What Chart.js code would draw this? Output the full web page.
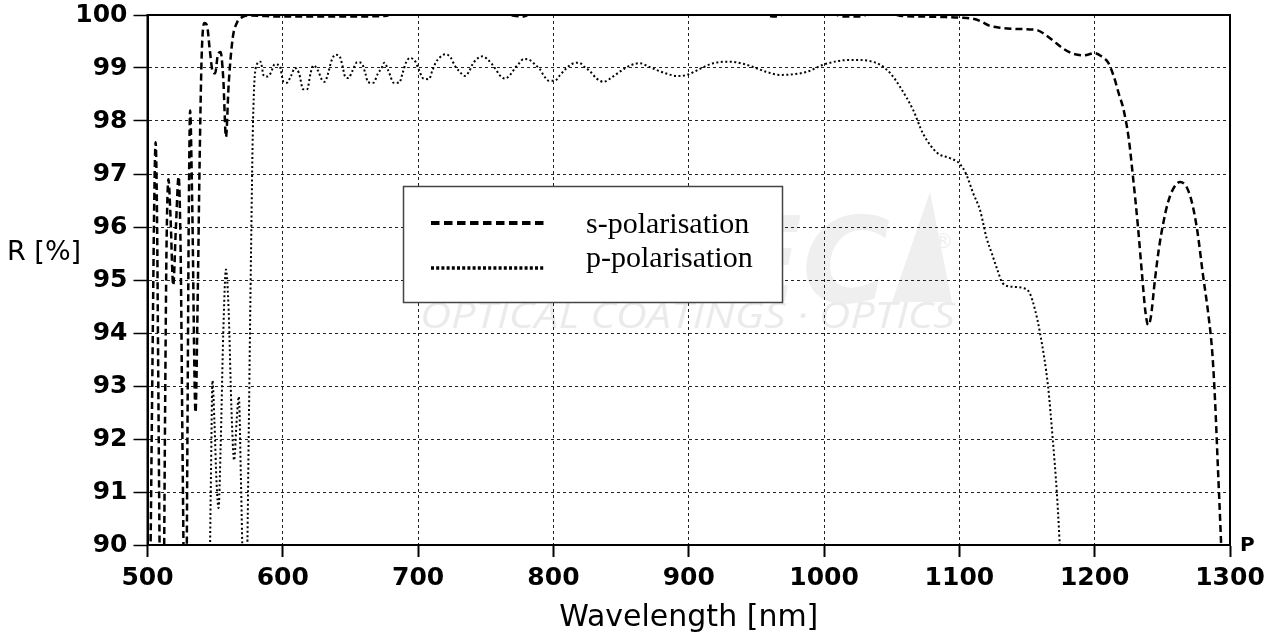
<!DOCTYPE html>
<html>
<head>
<meta charset="utf-8">
<script src="https://cdn.jsdelivr.net/npm/chart.js@4.4.0/dist/chart.umd.min.js"></script>
<style>
  html, body { margin: 0; padding: 0; background: #fff; }
  #wrap { width: 1274px; height: 636px; }
</style>
</head>
<body>
<div id="wrap"><canvas id="reflChart" width="1274" height="636"></canvas></div>
<script>
  // axis ranges / tick steps
  const xTicks = [500, 600, 700, 800, 900, 1000, 1100, 1200, 1300];
  const yTicks = [90, 91, 92, 93, 94, 95, 96, 97, 98, 99, 100];

  // s-polarisation (dashed)
  const sWavelength = [500, 502, 503.5, 505, 506, 507, 508, 509, 510.5, 512, 513, 514, 515.5, 517, 519, 521, 523, 524.5, 526, 527.5,
    528.5, 529.5, 530.5, 531.5, 533, 535.5, 537, 538.5, 540, 542, 544, 546, 548, 550, 552, 554, 556, 558, 560, 563,
    566, 570, 575, 600, 640, 675, 690, 750, 770, 778, 786, 800, 940, 955, 963, 972, 990, 1005, 1014, 1027,
    1036, 1048, 1058, 1075, 1090, 1100, 1110, 1116, 1122, 1130, 1140, 1150, 1158, 1164, 1170, 1177, 1184, 1192, 1200, 1205,
    1210, 1214, 1218, 1221, 1225, 1228.5, 1232, 1235, 1237.5, 1239.5, 1241.5, 1244.5, 1247.5, 1250.5, 1254, 1258, 1263, 1268, 1272, 1276,
    1280, 1284, 1287, 1289, 1291, 1293, 1295];
  const sReflect = [88, 89.5, 93, 96.5, 97.6, 96.3, 93, 89.8, 87.5, 89, 92.5, 95.5, 96.9, 96.2, 94.9, 96, 96.95, 95.5, 91.5, 88.5,
    88.5, 92, 96.2, 98.2, 96.5, 92.5, 94.5, 97.2, 99.2, 99.85, 99.8, 99.35, 98.95, 98.9, 99.25, 99.3, 98.8, 97.7, 98.7, 99.57,
    99.85, 99.96, 99.99, 99.97, 99.97, 99.98, 100.15, 100.15, 99.99, 99.97, 100.1, 100.2, 100.2, 100.03, 99.97, 100.03, 100.2, 100.05, 99.97, 99.97,
    100.05, 100.04, 99.98, 99.97, 99.96, 99.95, 99.93, 99.88, 99.8, 99.76, 99.74, 99.73, 99.71, 99.62, 99.5, 99.36, 99.27, 99.24, 99.28, 99.22,
    99.1, 98.85, 98.5, 98.25, 97.7, 96.9, 96.0, 95.1, 94.4, 94.15, 94.3, 95.0, 95.6, 96.05, 96.45, 96.72, 96.85, 96.75, 96.45, 95.9,
    95.1, 94.35, 93.6, 92.7, 91.5, 90.3, 89];

  // p-polarisation (dotted)
  const pWavelength = [500, 544, 545.5, 547, 548, 549.5, 551, 552.5, 554, 556, 558, 560, 562, 564, 566, 567.5, 569, 570.5, 572, 573.5,
    575, 576.5, 578, 580, 583.5, 586, 588.5, 591, 594, 597.5, 600.5, 603, 606, 609, 612, 615, 618, 620.5, 622.6, 626,
    629, 631, 633.5, 636, 639, 642, 644, 646, 648.5, 651.5, 655, 658.5, 661, 663, 667, 670, 673, 675, 678, 682,
    686, 688.5, 691, 694, 698, 700, 704, 708, 710.5, 713, 716, 720, 724, 727, 730, 734.6, 738, 740, 743, 747.7,
    751, 755, 758, 760, 764, 768, 771.6, 775, 778, 782.6, 787, 790, 793, 796.7, 801, 805, 809, 814, 819, 823,
    827, 832, 837, 843, 849, 856, 864, 870, 876.5, 884, 891, 898.7, 908, 918, 930.5, 940, 947.5, 957, 967.5, 977,
    987.5, 999.3, 1008, 1017, 1026, 1034, 1041.5, 1049, 1056, 1066, 1073, 1083.5, 1093, 1100, 1105, 1110, 1115.5, 1117.6, 1120, 1124,
    1128, 1132, 1140, 1147, 1152, 1156, 1159.6, 1165.5, 1169, 1172, 1174, 1176];
  const pReflect = [86, 86, 88.5, 91.5, 93.1, 92.3, 91.2, 90.7, 91.8, 94.0, 95.2, 94.4, 92.6, 91.6, 92.4, 92.8, 91.3, 89.5, 88.5, 89.5,
    92.5, 95.5, 98.0, 99.0, 99.12, 98.85, 98.84, 98.9, 99.07, 99.05, 98.74, 98.72, 98.85, 99.0, 98.9, 98.6, 98.6, 98.9, 99.05, 98.95,
    98.77, 98.74, 98.9, 99.14, 99.25, 99.22, 99.05, 98.84, 98.81, 98.95, 99.11, 99.08, 98.9, 98.73, 98.72, 98.88, 99.0, 99.1, 98.95, 98.72,
    98.72, 98.9, 99.1, 99.19, 99.12, 99.0, 98.8, 98.79, 98.95, 99.1, 99.2, 99.26, 99.2, 99.05, 98.95, 98.85, 98.95, 99.06, 99.16, 99.22,
    99.17, 99.06, 98.95, 98.87, 98.8, 98.87, 99.0, 99.1, 99.17, 99.15, 99.05, 98.98, 98.85, 98.76, 98.76, 98.87, 98.98, 99.08, 99.1, 99.02,
    98.94, 98.8, 98.74, 98.82, 98.93, 99.04, 99.09, 99.03, 98.96, 98.89, 98.85, 98.87, 98.98, 99.09, 99.12, 99.08, 99.02, 98.93, 98.87, 98.88,
    98.93, 99.06, 99.12, 99.15, 99.15, 99.13, 99.06, 98.9, 98.65, 98.2, 97.77, 97.4, 97.3, 97.2, 97.0, 96.65, 96.3, 96.07, 95.8, 95.5,
    95.2, 94.94, 94.87, 94.85, 94.75, 94.43, 94.0, 93.0, 92.0, 91.0, 90.1, 89.0];

  const toPoints = (xs, ys) => xs.map((x, i) => ({ x: x, y: ys[i] }));

  const tickFont = { family: 'DejaVu Sans', size: 25, weight: 'bold' };
  const sDash = [7, 4];
  const pDash = [2, 2.5];

  // faint logo + lettering behind the grid
  const watermark = {
    id: 'watermark',
    beforeDraw(chart) {
      const ctx = chart.ctx;
      ctx.save();
      ctx.fillStyle = '#efefef';
      ctx.beginPath();
      ctx.moveTo(892, 302);
      ctx.lineTo(930, 192);
      ctx.lineTo(952, 302);
      ctx.closePath();
      ctx.fill();
      ctx.font = 'italic bold 120px "DejaVu Sans"';
      ctx.textBaseline = 'alphabetic';
      ctx.fillText('EC', 720, 302);
      ctx.font = '22px "DejaVu Sans"';
      ctx.fillText('\u00AE', 932, 248);
      const label = 'OPTICAL COATINGS \u00B7 OPTICS';
      ctx.font = 'italic 36px "Open Sans"';
      const w = ctx.measureText(label).width;
      ctx.translate(420, 328);
      ctx.scale(535 / w, 1);
      ctx.fillStyle = '#ebebeb';
      ctx.fillText(label, 0, 0);
      ctx.restore();
    }
  };

  const frame = {
    id: 'frame',
    beforeDatasetsDraw(chart) {
      const { ctx, chartArea: a } = chart;
      ctx.save();
      ctx.strokeStyle = '#000';
      ctx.lineWidth = 2;
      ctx.strokeRect(a.left, a.top, a.right - a.left, a.bottom - a.top);
      ctx.restore();
    },
    afterDraw(chart) {
      const ctx = chart.ctx;
      ctx.save();
      // y title, horizontal
      ctx.fillStyle = '#000';
      ctx.font = '27px "DejaVu Sans"';
      ctx.textBaseline = 'middle';
      ctx.textAlign = 'left';
      ctx.fillText('R [%]', 7, 253);
      ctx.font = 'bold 20px "DejaVu Sans"';
      ctx.fillText('P', 1240, 546);

      // legend box
      ctx.fillStyle = '#fff';
      ctx.fillRect(403, 186, 380, 117);
      ctx.strokeStyle = '#444';
      ctx.lineWidth = 1.5;
      ctx.strokeRect(403.5, 186.5, 379, 116);
      ctx.strokeStyle = '#000';
      ctx.lineWidth = 4;
      ctx.setLineDash([8.5, 4.5]);
      ctx.beginPath(); ctx.moveTo(431, 223); ctx.lineTo(545, 223); ctx.stroke();
      ctx.lineWidth = 3.5;
      ctx.setLineDash([3, 2.2]);
      ctx.beginPath(); ctx.moveTo(431, 268); ctx.lineTo(545, 268); ctx.stroke();
      ctx.setLineDash([]);
      ctx.fillStyle = '#000';
      ctx.font = '30px "Liberation Serif"';
      ctx.textBaseline = 'alphabetic';
      ctx.fillText('s-polarisation', 586, 233);
      ctx.fillText('p-polarisation', 586, 267);
      ctx.restore();
    }
  };

  new Chart(document.getElementById('reflChart'), {
    type: 'line',
    data: {
      datasets: [{
        label: 's-polarisation',
        data: toPoints(sWavelength, sReflect),
        borderColor: '#000',
        borderWidth: 2.5,
        borderDash: sDash,
        pointRadius: 0,
        cubicInterpolationMode: 'monotone'
      }, {
        label: 'p-polarisation',
        data: toPoints(pWavelength, pReflect),
        borderColor: '#000',
        borderWidth: 2,
        borderDash: pDash,
        pointRadius: 0,
        cubicInterpolationMode: 'monotone'
      }]
    },
    options: {
      responsive: false,
      animation: false,
      devicePixelRatio: 1,
      layout: { padding: { top: 15, right: 44, left: 0, bottom: 0 } },
      plugins: { legend: { display: false }, tooltip: { enabled: false } },
      scales: {
        x: {
          type: 'linear',
          min: xTicks[0],
          max: xTicks[xTicks.length - 1],
          afterBuildTicks: (scale) => { scale.ticks = xTicks.map(v => ({ value: v })); },
          afterFit: (scale) => { scale.height = 91; },
          ticks: { font: tickFont, color: '#000', padding: 6, callback: (v) => String(v) },
          grid: { color: '#222', lineWidth: 1, tickLength: 12, tickWidth: 2, tickColor: '#000', tickBorderDash: [] },
          border: { display: true, color: '#000', width: 2, dash: [3, 3] },
          title: { display: true, text: 'Wavelength [nm]', color: '#000', font: { family: 'DejaVu Sans', size: 30 }, padding: { top: 2, bottom: 0 } }
        },
        y: {
          type: 'linear',
          min: yTicks[0],
          max: yTicks[yTicks.length - 1],
          afterBuildTicks: (scale) => { scale.ticks = yTicks.map(v => ({ value: v })); },
          afterFit: (scale) => { scale.width = 147.5; scale.paddingTop = 0; scale.paddingBottom = 0; },
          ticks: { font: tickFont, color: '#000', padding: 6, callback: (v) => String(v) },
          grid: { color: '#222', lineWidth: 1, tickLength: 14, tickWidth: 1.5, tickColor: '#000', tickBorderDash: [] },
          border: { display: true, color: '#000', width: 2, dash: [3, 3] }
        }
      }
    },
    plugins: [watermark, frame]
  });
</script>
</body>
</html>
